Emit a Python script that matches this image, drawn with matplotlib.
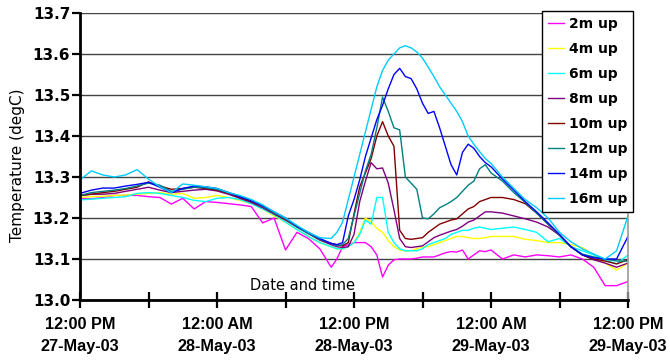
import matplotlib
matplotlib.use("Agg")
import matplotlib.pyplot as plt

# sample times, hours since 12:00 PM 27-May-03 (finer around the afternoon peak)
hours = [0, 1, 2, 3, 4, 5, 6, 7, 8, 9, 10, 11, 12, 13, 14, 15, 16, 17, 18, 19, 20, 21, 22,
         22.5, 23, 23.5, 24, 24.5, 25, 25.5, 26, 26.5, 27, 27.5, 28, 28.5, 29, 29.5, 30,
         30.5, 31, 31.5, 32, 32.5, 33, 33.5, 34, 34.5, 35, 35.5, 36,
         37, 38, 39, 40, 41, 42, 43, 44, 45, 46, 47, 48]

up2 = [13.248, 13.247, 13.250, 13.255, 13.255, 13.255, 13.252, 13.250, 13.234, 13.248, 13.222, 13.240,
       13.238, 13.235, 13.232, 13.228, 13.188, 13.200, 13.122, 13.165, 13.150, 13.125, 13.080,
       13.10, 13.13, 13.135, 13.14, 13.14, 13.14, 13.13, 13.11, 13.056, 13.085, 13.098, 13.10, 13.10,
       13.10, 13.102, 13.105, 13.105, 13.105, 13.11, 13.115, 13.118, 13.117, 13.122, 13.10, 13.11,
       13.12, 13.118, 13.122,
       13.10, 13.11, 13.105, 13.11, 13.108, 13.105, 13.11, 13.10, 13.08, 13.035, 13.035, 13.045]
up4 = [13.250, 13.252, 13.253, 13.255, 13.256, 13.258, 13.260, 13.262, 13.258, 13.260, 13.248, 13.250,
       13.255, 13.250, 13.243, 13.235, 13.222, 13.205, 13.190, 13.172, 13.155, 13.140, 13.130,
       13.125, 13.125, 13.13, 13.14, 13.165, 13.2, 13.19, 13.175, 13.165, 13.145, 13.13, 13.122, 13.12,
       13.12, 13.125, 13.13, 13.13, 13.135, 13.14, 13.145, 13.15, 13.155, 13.155, 13.152, 13.15,
       13.15, 13.152, 13.155,
       13.155, 13.155, 13.148, 13.145, 13.14, 13.14, 13.135, 13.128, 13.11, 13.09, 13.073, 13.09]
up6 = [13.244, 13.246, 13.248, 13.250, 13.252, 13.260, 13.262, 13.260, 13.255, 13.250, 13.243, 13.240,
       13.248, 13.250, 13.245, 13.235, 13.222, 13.208, 13.190, 13.172, 13.155, 13.140, 13.130,
       13.125, 13.125, 13.13, 13.14, 13.16, 13.195, 13.185, 13.25, 13.25, 13.165, 13.14, 13.125, 13.12,
       13.12, 13.12, 13.125, 13.135, 13.14, 13.145, 13.15, 13.16, 13.165, 13.17, 13.17, 13.175,
       13.178, 13.175, 13.172,
       13.175, 13.178, 13.172, 13.165, 13.142, 13.15, 13.13, 13.12, 13.11, 13.098, 13.088, 13.11]
up8 = [13.255, 13.258, 13.258, 13.260, 13.265, 13.270, 13.275, 13.268, 13.262, 13.265, 13.268, 13.270,
       13.266, 13.258, 13.248, 13.238, 13.225, 13.210, 13.195, 13.178, 13.162, 13.146, 13.135,
       13.13, 13.128, 13.13, 13.16, 13.24, 13.29, 13.335, 13.32, 13.322, 13.285, 13.22, 13.15, 13.13,
       13.128, 13.13, 13.132, 13.142, 13.152, 13.158, 13.163, 13.168, 13.172, 13.18, 13.19, 13.195,
       13.205, 13.215, 13.215,
       13.212, 13.205, 13.198, 13.19, 13.178, 13.158, 13.13, 13.11, 13.098, 13.09, 13.08, 13.09]
up10 = [13.255, 13.258, 13.262, 13.265, 13.270, 13.275, 13.288, 13.278, 13.270, 13.272, 13.275, 13.272,
        13.268, 13.260, 13.250, 13.240, 13.228, 13.212, 13.196, 13.180, 13.163, 13.148, 13.138,
        13.135, 13.132, 13.14, 13.21, 13.276, 13.31, 13.345, 13.40, 13.435, 13.40, 13.375, 13.17, 13.15,
        13.148, 13.15, 13.152, 13.165, 13.175, 13.185, 13.19, 13.195, 13.198, 13.21, 13.222, 13.228,
        13.24, 13.245, 13.25,
        13.25, 13.245, 13.235, 13.212, 13.185, 13.158, 13.13, 13.11, 13.10, 13.095, 13.088, 13.098]
up12 = [13.255, 13.262, 13.265, 13.268, 13.272, 13.278, 13.285, 13.280, 13.265, 13.270, 13.275, 13.274,
        13.270, 13.262, 13.252, 13.242, 13.228, 13.213, 13.198, 13.178, 13.162, 13.148, 13.138,
        13.132, 13.135, 13.15, 13.205, 13.26, 13.315, 13.355, 13.42, 13.495, 13.46, 13.42, 13.415, 13.30,
        13.285, 13.27, 13.20, 13.198, 13.21, 13.225, 13.232, 13.24, 13.25, 13.265, 13.28, 13.29,
        13.32, 13.33, 13.31,
        13.29, 13.262, 13.238, 13.212, 13.185, 13.158, 13.13, 13.112, 13.105, 13.10, 13.095, 13.095]
up14 = [13.260, 13.268, 13.273, 13.273, 13.278, 13.282, 13.287, 13.275, 13.262, 13.272, 13.278, 13.276,
        13.272, 13.262, 13.252, 13.242, 13.230, 13.215, 13.200, 13.180, 13.165, 13.150, 13.138,
        13.135, 13.14, 13.205, 13.245, 13.293, 13.35, 13.395, 13.44, 13.475, 13.515, 13.55, 13.565, 13.545,
        13.54, 13.515, 13.48, 13.455, 13.46, 13.42, 13.375, 13.33, 13.305, 13.36, 13.38, 13.37,
        13.35, 13.335, 13.325,
        13.295, 13.268, 13.24, 13.215, 13.188, 13.16, 13.13, 13.11, 13.103, 13.10, 13.10, 13.155]
up16 = [13.293, 13.315, 13.305, 13.300, 13.305, 13.318, 13.295, 13.276, 13.262, 13.283, 13.280, 13.276,
        13.272, 13.262, 13.255, 13.245, 13.232, 13.215, 13.200, 13.182, 13.165, 13.152, 13.150,
        13.165, 13.19, 13.245, 13.30, 13.355, 13.41, 13.465, 13.52, 13.56, 13.585, 13.60, 13.615, 13.62,
        13.615, 13.605, 13.59, 13.568, 13.545, 13.52, 13.50, 13.48, 13.46, 13.435, 13.40, 13.38,
        13.362, 13.345, 13.333,
        13.30, 13.272, 13.245, 13.225, 13.20, 13.165, 13.142, 13.125, 13.112, 13.10, 13.12, 13.205]

series = [up2, up4, up6, up8, up10, up12, up14, up16]
names = ["2m up", "4m up", "6m up", "8m up", "10m up", "12m up", "14m up", "16m up"]
colors = ["#FF00FF", "#FFFF00", "#00FFFF", "#800080", "#800000", "#008080", "#0000FF", "#00CCFF"]

tick_hours = [0, 6, 12, 18, 24, 30, 36, 42, 48]
tick_labels = ["12:00 PM\n27-May-03", "", "12:00 AM\n28-May-03", "", "12:00 PM\n28-May-03", "",
               "12:00 AM\n29-May-03", "", "12:00 PM\n29-May-03"]
y_ticks = [13.0, 13.1, 13.2, 13.3, 13.4, 13.5, 13.6, 13.7]

fig = plt.figure(figsize=(6.7, 3.6), dpi=100)
ax = fig.add_axes([80 / 670, 60 / 360, 548 / 670, 287 / 360])

for vals, name, col in zip(series, names, colors):
    ax.plot(hours, vals, color=col, lw=1.0, label=name)

ax.set_xlim(0, 48)
ax.set_ylim(13.0, 13.7)
ax.set_yticks(y_ticks)
ax.set_yticklabels(["%.1f" % v for v in y_ticks], fontfamily="DejaVu Sans", fontweight="bold", fontsize=11)
ax.set_xticks(tick_hours)
ax.set_xticklabels(tick_labels, fontfamily="Liberation Sans", fontweight="bold", fontsize=11.7,
                   linespacing=1.6)
ax.yaxis.grid(True, color="#444444", lw=1.0)
ax.set_axisbelow(True)

ax.tick_params(axis="x", direction="inout", length=12, width=1.6, pad=6)
ax.tick_params(axis="y", direction="out", length=6, width=1.6, pad=1)
ax.spines["left"].set_linewidth(2)
ax.spines["bottom"].set_linewidth(2)
ax.spines["top"].set_visible(False)
ax.spines["right"].set_color("#999999")
ax.spines["right"].set_linewidth(1.2)

ax.text(0.310, 0.025, "Date and time", transform=ax.transAxes, fontfamily="DejaVu Sans",
        fontsize=10.5, ha="left", va="bottom")
fig.text(18 / 670, 1 - 165 / 360, "Temperature (degC)", rotation=90, fontfamily="DejaVu Sans",
         fontsize=11, ha="center", va="center")

leg = fig.legend(loc="upper left", bbox_to_anchor=(542 / 670, 1 - 11 / 360), borderaxespad=0,
                 prop={"family": "DejaVu Sans", "weight": "bold", "size": 10},
                 handlelength=1.15, handletextpad=0.4, labelspacing=0.8, borderpad=0.4,
                 fancybox=False, framealpha=1, edgecolor="black")
leg.get_frame().set_linewidth(1.0)

fig.savefig("out.png", dpi=100)
